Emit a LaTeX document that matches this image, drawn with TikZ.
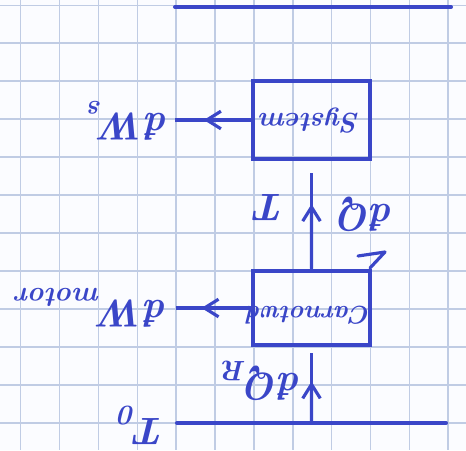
\documentclass[tikz,border=0pt]{standalone}
\usepackage{fontspec}
\usepackage{graphicx}
\usetikzlibrary{arrows.meta,calc}
\definecolor{ink}{RGB}{58,70,200}
\definecolor{gridblue}{RGB}{192,204,228}
\definecolor{paper}{RGB}{251,252,255}
% lowered index for the handwritten labels
\newcommand{\lowidx}[1]{\raisebox{-0.32em}{\fontsize{16}{18}\selectfont #1}}
\tikzset{
  gridline/.style={gridblue, line width=0.9pt},
  reservoir/.style={ink, line width=2.3pt, line cap=round},
  blockbox/.style={draw=ink, line width=2.3pt, minimum width=2.34cm, inner sep=0pt},
  conn/.style={ink, line width=1.8pt},
  tip/.style={-{Straight Barb[length=8pt, width=10pt, line width=1.8pt]}},
  lbl/.style={text=ink, rotate=180, inner sep=0pt, font=\fontsize{22}{24}\selectfont\bfseries\itshape},
  boxtext/.style={text=ink, rotate=180, inner sep=0pt, font=\fontsize{16}{19}\selectfont\bfseries\itshape}
}
\begin{document}
\begin{tikzpicture}[x=0.02cm, y=-0.02cm]
  % squared paper
  \fill[paper] (0,0) rectangle (466,450);
  \useasboundingbox (0,0) rectangle (466,450);
  \foreach \k in {0,...,11}
    \draw[gridline] ({20.7+38.87*\k},0) -- ({20.7+38.87*\k},450);
  \foreach \k in {0,...,11}
    \draw[gridline] (0,{5.3+37.97*\k}) -- (466,{5.3+37.97*\k});

  % reservoirs
  \coordinate (hotL) at (175,7);
  \coordinate (hotR) at (451,7);
  \coordinate (coldL) at (177,423);
  \coordinate (coldR) at (446,423);
  \coordinate (coldTap) at (311.5,423);
  \draw[reservoir] (hotL) -- (hotR);
  \draw[reservoir] (coldL) -- (coldR);

  % blocks
  \node[blockbox, minimum height=1.56cm] (sys) at (311.5,120) {};
  \node[blockbox, minimum height=1.49cm] (carnot) at (311.5,308) {};
  \node[boxtext] (systxt) at (310,121) {System};
  \node[boxtext, font=\fontsize{14.5}{17}\selectfont\bfseries\itshape] (carnottxt) at (309,315) {Carnotwd};

  % work output of the system
  \coordinate (wsEnd) at (175,120);
  \draw[conn] (sys.west) -- (wsEnd);
  \draw[conn, tip] (sys.west) -- ($(sys.west)!0.62!(wsEnd)$);
  \node[lbl] (ws) at (129,121) {đW\lowidx{s}};

  % heat from the Carnot block to the system
  \draw[conn] (carnot.north) -- ([yshift=-7pt]sys.south);
  \draw[conn, tip] (carnot.north) -- ($(carnot.north)!0.6!(sys.south)$);
  \node[lbl] (temp) at (271,208) {T};
  \node[lbl] (dq) at (367,214) {đQ};

  % work of the Carnot block
  \coordinate (wmEnd) at (176,308);
  \draw[conn] (carnot.west) -- (wmEnd);
  \draw[conn, tip] (carnot.west) -- ($(carnot.west)!0.66!(wmEnd)$);
  \node[lbl] (wm) at (92,308) {đW\lowidx{motor}};

  % heat from the environment
  \draw[conn] (coldTap) -- ([yshift=-3pt]carnot.south);
  \draw[conn, tip] (coldTap) -- ($(coldTap)!0.55!(carnot.south)$);
  \node[lbl] (dqr) at (262,381) {đQ\lowidx{R}};
  \node[lbl] (t0) at (143,425) {T\lowidx{0}};

  % pen flick at the corner of the Carnot block
  \draw[ink, line width=1.8pt, line cap=round, line join=round]
    (370,268) -- (385,252) -- (358,256);
\end{tikzpicture}
\end{document}
